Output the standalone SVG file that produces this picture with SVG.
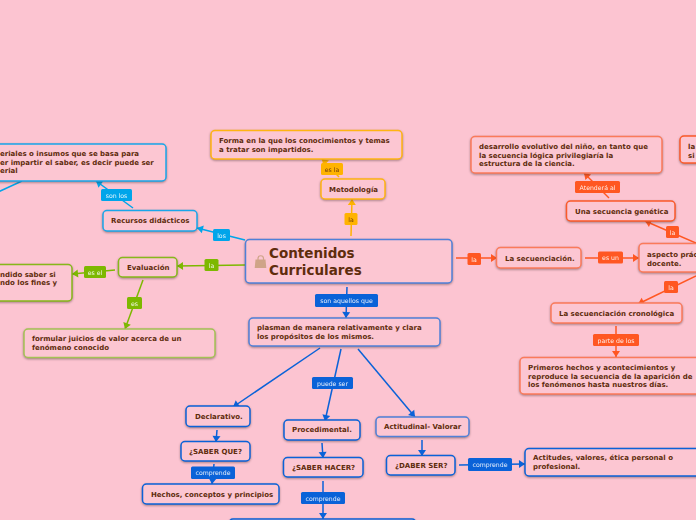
<svg xmlns="http://www.w3.org/2000/svg" width="696" height="520" viewBox="0 0 696 520">
<style>
text{font-family:"DejaVu Sans",Verdana,sans-serif}
.n rect{fill:#fcc6d2;stroke-width:1.5;filter:drop-shadow(0 1px 1px rgba(60,40,40,.45))}
.n text{font-size:7px;font-weight:700;fill:#5f2c0c}
.blue rect{stroke:#0a62d8}.lblue rect{stroke:#4f80d8}
.cyan rect{stroke:#19a6ea}.green rect{stroke:#86b81a}.lgreen rect{stroke:#a4c254}
.orange rect{stroke:#ffb412}.red rect{stroke:#fb5a2a}.lred rect{stroke:#fb7a5a}
.c line{stroke-width:1.5;fill:none}
.l rect{rx:1.5px}
.l text{font-size:6.2px;fill:#fff;text-anchor:middle;opacity:.9}
.lb line{stroke:#0a62d8}.lc line{stroke:#00a5ea}.lg line{stroke:#7db800}.lo line{stroke:#ffb300}.lr line{stroke:#ff5722}
rect.b{fill:#0a62d8}rect.k{fill:#00a5ea}rect.g{fill:#7db800}rect.o{fill:#ffb300}rect.r{fill:#ff5722}
</style>
<defs>
<marker id="ab" markerUnits="userSpaceOnUse" markerWidth="10" markerHeight="10" refX="7" refY="5" orient="auto"><path d="M1,1L7,5L1,9Z" fill="#0a62d8"/></marker>
<marker id="ac" markerUnits="userSpaceOnUse" markerWidth="10" markerHeight="10" refX="7" refY="5" orient="auto"><path d="M1,1L7,5L1,9Z" fill="#00a5ea"/></marker>
<marker id="ag" markerUnits="userSpaceOnUse" markerWidth="10" markerHeight="10" refX="7" refY="5" orient="auto"><path d="M1,1L7,5L1,9Z" fill="#7db800"/></marker>
<marker id="ao" markerUnits="userSpaceOnUse" markerWidth="10" markerHeight="10" refX="7" refY="5" orient="auto"><path d="M1,1L7,5L1,9Z" fill="#ffb300"/></marker>
<marker id="ar" markerUnits="userSpaceOnUse" markerWidth="10" markerHeight="10" refX="7" refY="5" orient="auto"><path d="M1,1L7,5L1,9Z" fill="#ff5722"/></marker>
</defs>
<rect width="696" height="520" fill="#fcc4d1"/>
<g id="connectors" class="c">
<g class="lc">
<line x1="22" y1="181" x2="-2" y2="192"/>
<line x1="133" y1="208" x2="96" y2="181" marker-end="url(#ac)"/>
<line x1="245" y1="240" x2="197" y2="228" marker-end="url(#ac)"/>
</g>
<g class="lg">
<line x1="245" y1="265" x2="177" y2="266" marker-end="url(#ag)"/>
<line x1="115" y1="270" x2="72" y2="274" marker-end="url(#ag)"/>
<line x1="143" y1="280" x2="125" y2="329" marker-end="url(#ag)"/>
</g>
<g class="lo">
<line x1="351" y1="236" x2="352" y2="199" marker-end="url(#ao)"/>
<line x1="339" y1="177" x2="322" y2="159" marker-end="url(#ao)"/>
</g>
<g class="lr">
<line x1="456" y1="258" x2="497" y2="258" marker-end="url(#ar)"/>
<line x1="585" y1="258" x2="639" y2="258" marker-end="url(#ar)"/>
<line x1="696" y1="243" x2="645" y2="221" marker-end="url(#ar)"/>
<line x1="696" y1="276" x2="638" y2="304" marker-end="url(#ar)"/>
<line x1="609" y1="198" x2="584" y2="173" marker-end="url(#ar)"/>
<line x1="616" y1="326" x2="616" y2="357" marker-end="url(#ar)"/>
</g>
<g class="lb">
<line x1="347" y1="287" x2="346" y2="318" marker-end="url(#ab)"/>
<line x1="320" y1="348" x2="233" y2="407" marker-end="url(#ab)"/>
<line x1="341" y1="349" x2="325" y2="421" marker-end="url(#ab)"/>
<line x1="358" y1="349" x2="415" y2="417" marker-end="url(#ab)"/>
<line x1="217" y1="430" x2="216" y2="442" marker-end="url(#ab)"/>
<line x1="214" y1="464" x2="212" y2="484" marker-end="url(#ab)"/>
<line x1="322" y1="443" x2="323" y2="458" marker-end="url(#ab)"/>
<line x1="323" y1="481" x2="323" y2="519" marker-end="url(#ab)"/>
<line x1="422" y1="440" x2="422" y2="456" marker-end="url(#ab)"/>
<line x1="459" y1="465" x2="525" y2="464" marker-end="url(#ab)"/>
</g>
<g class="l">
<rect class="k" x="101" y="189" width="31" height="12"/><text x="116.5" y="197.500">son los</text>
<rect class="k" x="213" y="229" width="17" height="12"/><text x="221.5" y="237.500">los</text>
<rect class="g" x="204.500" y="259" width="14" height="12"/><text x="211.500" y="267.500">la</text>
<rect class="g" x="84" y="266" width="22" height="12"/><text x="95" y="274.500">es el</text>
<rect class="g" x="127" y="297" width="15" height="12"/><text x="134.500" y="305.500">es</text>
<rect class="o" x="344.500" y="213" width="13" height="12"/><text x="351" y="221.500" style="fill:#5f2c0c">la</text>
<rect class="o" x="321" y="163" width="22" height="12"/><text x="332" y="171.500" style="fill:#5f2c0c">es la</text>
<rect class="r" x="467.500" y="253" width="13.500" height="12"/><text x="474" y="261.500">la</text>
<rect class="r" x="598" y="251.500" width="25" height="12"/><text x="610.500" y="260">es un</text>
<rect class="r" x="666" y="226" width="13" height="12"/><text x="672.500" y="234.500">la</text>
<rect class="r" x="664" y="281" width="14" height="12"/><text x="671" y="289.500">la</text>
<rect class="r" x="575" y="181" width="45" height="12"/><text x="597.500" y="189.500">Atenderá al</text>
<rect class="r" x="593" y="334" width="46" height="12"/><text x="616" y="342.500">parte de los</text>
<rect class="b" x="315" y="294" width="63" height="13"/><text x="346.500" y="303">son aquellos que</text>
<rect class="b" x="312" y="377" width="41" height="12"/><text x="332.500" y="385.500">puede ser</text>
<rect class="b" x="191" y="466.500" width="44" height="12.500"/><text x="213" y="475">comprende</text>
<rect class="b" x="301" y="492" width="44" height="12"/><text x="323" y="500.500">comprende</text>
<rect class="b" x="468" y="458" width="44" height="13"/><text x="490" y="467">comprende</text>
</g>
</g>
<g id="n-main" class="n lblue"><rect x="245.500" y="239.500" width="206.500" height="43.500" rx="4"/>
<path d="M255.500 259.500h10l.8 8.500h-11.600z" fill="#cfa488"/><path d="M258 261v-2.500a2.600 2.600 0 0 1 5.500 0v2.500" fill="none" stroke="#cfa488" stroke-width="1.200"/>
<text x="269" y="258" style="font-size:13.500px">Contenidos</text><text x="269" y="275" style="font-size:13.500px">Curriculares</text></g>
<g id="n-materiales" class="n cyan"><rect x="-30" y="144" width="196" height="37" rx="4"/>
<text x="0" y="156">eriales o insumos que se basa para</text><text x="0" y="165">er impartir el saber, es decir puede ser</text><text x="0" y="173">erial</text></g>
<g id="n-recursos" class="n cyan"><rect x="103" y="210.500" width="94" height="20.500" rx="4"/><text x="111" y="223">Recursos didácticos</text></g>
<g id="n-evaluacion" class="n green"><rect x="118.500" y="257.500" width="58.500" height="19.500" rx="4"/><text x="127" y="270">Evaluación</text></g>
<g id="n-entendido" class="n green"><rect x="-30" y="264.500" width="102" height="36.500" rx="4"/>
<text x="0" y="277">ndido saber si</text><text x="0" y="285">ndo los fines y</text></g>
<g id="n-formular" class="n lgreen"><rect x="24" y="329" width="191" height="28.500" rx="4"/>
<text x="32" y="341">formular juicios de valor acerca de un</text><text x="32" y="350">fenómeno conocido</text></g>
<g id="n-forma" class="n orange"><rect x="211" y="130.500" width="191" height="28.500" rx="4"/>
<text x="219" y="143">Forma en la que los conocimientos y temas</text><text x="219" y="151.500">a tratar son impartidos.</text></g>
<g id="n-metodologia" class="n orange"><rect x="321" y="179" width="64" height="20" rx="4"/><text x="329" y="191.500">Metodología</text></g>
<g id="n-desarrollo" class="n lred"><rect x="471" y="136.500" width="191" height="36.500" rx="4"/>
<text x="479" y="149">desarrollo evolutivo del niño, en tanto que</text><text x="479" y="157.500">la secuencia lógica privilegiaría la</text><text x="479" y="166">estructura de la ciencia.</text></g>
<g id="n-far" class="n red"><rect x="680" y="136" width="40" height="27" rx="4"/><text x="688" y="149">la</text><text x="688" y="157.500">si</text></g>
<g id="n-genetica" class="n red"><rect x="566.500" y="201" width="108.500" height="20" rx="4"/><text x="575" y="214">Una secuencia genética</text></g>
<g id="n-secuenciacion" class="n lred"><rect x="496.500" y="247.500" width="84.500" height="20.500" rx="4"/><text x="505" y="261">La secuenciación.</text></g>
<g id="n-aspecto" class="n lred"><rect x="639" y="243.500" width="90" height="28.500" rx="4"/><text x="647" y="257">aspecto prác</text><text x="647" y="265.500">docente.</text></g>
<g id="n-cronologica" class="n lred"><rect x="551" y="303" width="131" height="20" rx="4"/><text x="559" y="316">La secuenciación cronológica</text></g>
<g id="n-primeros" class="n lred"><rect x="520" y="357.500" width="191" height="36.500" rx="4"/>
<text x="528" y="370">Primeros hechos y acontecimientos y</text><text x="528" y="379">reproduce la secuencia de la aparición de</text><text x="528" y="387">los fenómenos hasta nuestros días.</text></g>
<g id="n-plasman" class="n lblue"><rect x="249" y="318" width="191" height="28" rx="4"/>
<text x="257" y="330">plasman de manera relativamente y clara</text><text x="257" y="339">los propósitos de los mismos.</text></g>
<g id="n-declarativo" class="n blue"><rect x="186" y="406" width="64" height="20.500" rx="4"/><text x="195" y="419">Declarativo.</text></g>
<g id="n-saberque" class="n blue"><rect x="181" y="441.500" width="69" height="19.500" rx="4"/><text x="189" y="454">¿SABER QUE?</text></g>
<g id="n-hechos" class="n blue"><rect x="142.500" y="484" width="136.500" height="20" rx="4"/><text x="151" y="497">Hechos, conceptos y principios</text></g>
<g id="n-procedimental" class="n blue"><rect x="284" y="420" width="76" height="20" rx="4"/><text x="292" y="432">Procedimental.</text></g>
<g id="n-saberhacer" class="n blue"><rect x="283.500" y="457.500" width="79.500" height="19.500" rx="4"/><text x="292" y="470">¿SABER HACER?</text></g>
<g id="n-bottom" class="n blue"><rect x="229" y="519" width="187" height="20" rx="4"/></g>
<g id="n-actitudinal" class="n lblue"><rect x="376" y="417" width="93" height="19.500" rx="4"/><text x="384" y="429">Actitudinal- Valorar</text></g>
<g id="n-daberser" class="n blue"><rect x="386.500" y="455.500" width="68.500" height="19.500" rx="4"/><text x="395" y="468">¿DABER SER?</text></g>
<g id="n-actitudes" class="n blue"><rect x="525" y="448.500" width="191" height="27.500" rx="4"/>
<text x="533" y="460">Actitudes, valores, ética personal o</text><text x="533" y="469">profesional.</text></g>
</svg>
